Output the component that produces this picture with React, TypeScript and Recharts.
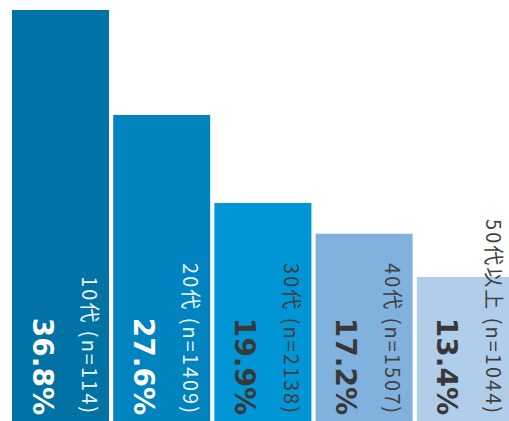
import { BarChart, Bar, XAxis, YAxis, Cell, LabelList } from "recharts"

const ages = ["10代", "20代", "30代", "40代", "50代以上"]
const sampleSizes = [114, 1409, 2138, 1507, 1044]
const shares = [36.8, 27.6, 19.9, 17.2, 13.4]

const barColors = ["#0072a3", "#0083bf", "#0096d6", "#80b2dd", "#b0cdea"]
const textColors = ["#ffffff", "#ffffff", "#383838", "#383838", "#383838"]
const subColors = ["#eef5fa", "#eef5fa", "#3f3f3f", "#3f3f3f", "#3f3f3f"]

const data = ages.map((age, i) => ({
  age,
  label: `${age} (n=${sampleSizes[i]})`,
  share: shares[i],
}))

// rotated labels sit near the bottom of each bar, reading top to bottom
function BarText(props: any) {
  const { x, index } = props
  const bottom = 415
  const pctX = x + 30
  const subX = x + 78
  return (
    <g>
      <text
        x={pctX} y={bottom}
        transform={`rotate(90, ${pctX}, ${bottom})`}
        textAnchor="end" dominantBaseline="central"
        fontFamily="DejaVu Sans" fontWeight="bold" fontSize={28}
        fill={textColors[index]}
      >
        {`${shares[index].toFixed(1)}%`}
      </text>
      <text
        x={subX} y={bottom}
        transform={`rotate(90, ${subX}, ${bottom})`}
        textAnchor="end" dominantBaseline="central"
        fontFamily="'Noto Sans CJK JP'" fontWeight={400} fontSize={20} letterSpacing={2}
        fill={subColors[index]}
      >
        {data[index].label}
      </text>
    </g>
  )
}

export default function App() {
  return (
    <div style={{ position: "fixed", top: 0, left: 0, width: 509, height: 421, overflow: "hidden", background: "#fff" }}>
      <BarChart width={516} height={430} data={data} margin={{ top: 10, right: 0, left: 10, bottom: 0 }}>
        <XAxis dataKey="age" hide />
        <YAxis hide domain={[0, 36.8]} />
        <Bar dataKey="share" barSize={97} isAnimationActive={false}>
          {data.map((d, i) => (
            <Cell key={d.age} fill={barColors[i]} />
          ))}
          <LabelList dataKey="share" content={<BarText />} />
        </Bar>
      </BarChart>
    </div>
  )
}
